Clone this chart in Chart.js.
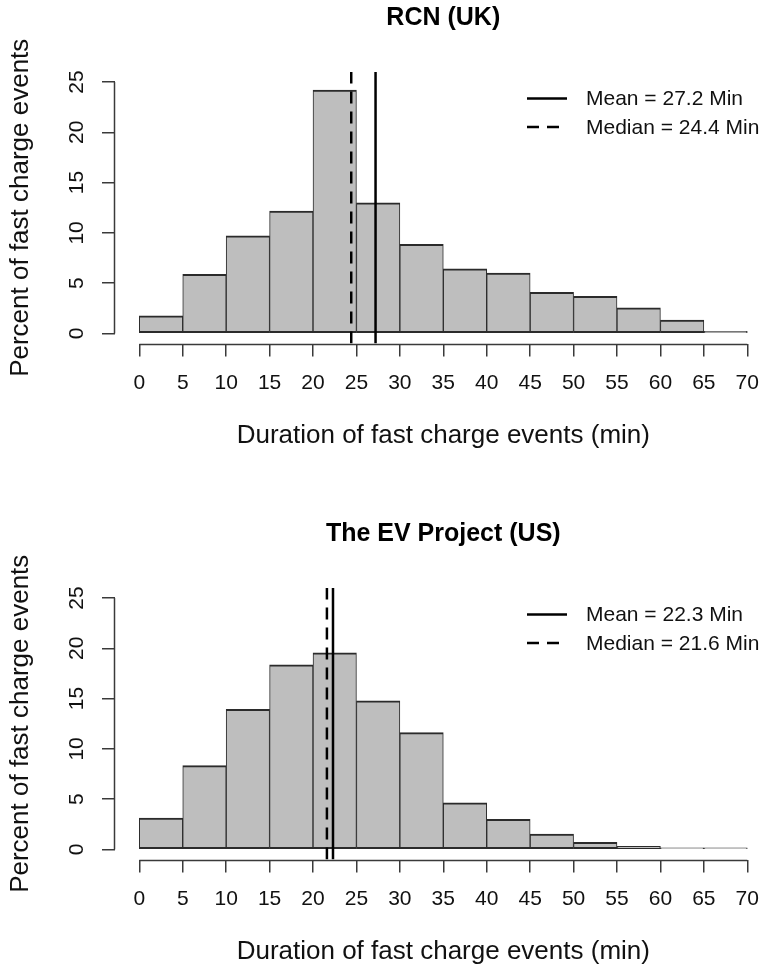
<!DOCTYPE html>
<html><head><meta charset="utf-8">
<script src="https://cdn.jsdelivr.net/npm/chart.js@4"></script>
<style>
html,body{margin:0;padding:0;background:#fff;width:765px;height:968px;overflow:hidden;position:relative}
canvas{position:absolute;left:0}
</style></head><body>
<canvas id="c1" width="773" height="452" style="top:0px"></canvas>
<canvas id="c2" width="773" height="452" style="top:516px"></canvas>
<script>
// ---- data ----
const binStarts = [0, 5, 10, 15, 20, 25, 30, 35, 40, 45, 50, 55, 60, 65];
const binWidth = 5;
const ukPercent = [1.75, 5.87, 9.71, 12.17, 24.2, 13.0, 8.86, 6.43, 6.0, 4.08, 3.68, 2.55, 1.32, 0.2];
const usPercent = [3.12, 8.33, 13.94, 18.36, 19.55, 14.77, 11.62, 4.64, 2.99, 1.52, 0.70, 0.30, 0.13, 0.05];
const xTickValues = [0, 5, 10, 15, 20, 25, 30, 35, 40, 45, 50, 55, 60, 65, 70];
const yTickValues = [0, 5, 10, 15, 20, 25];
const ukMean = 27.2, ukMedian = 24.4;
const usMean = 22.3, usMedian = 21.6;
const titles = ['RCN (UK)', 'The EV Project (US)'];
const xTitle = 'Duration of fast charge events (min)';
const yTitle = 'Percent of fast charge events';

// R-style axis range (4% extension of 0..70 and 0..25)
const X_MIN = -2.8, X_MAX = 72.8, Y_MIN = -1, Y_MAX = 26;

const FONT = "'Liberation Sans', Arial, sans-serif";
const AXIS_COLOR = '#3a3a3a';

const rStylePlugin = {
  id: 'rStyle',
  afterDraw(chart) {
    const ctx = chart.ctx;
    const xs = chart.scales.x, ys = chart.scales.y;
    const ca = chart.chartArea;
    ctx.save();
    ctx.strokeStyle = AXIS_COLOR;
    ctx.lineWidth = 1.5;
    // x axis line (0..70)
    ctx.beginPath();
    ctx.moveTo(xs.getPixelForValue(xTickValues[0]), Math.round(ca.bottom) + 0.5);
    ctx.lineTo(xs.getPixelForValue(xTickValues[xTickValues.length - 1]), Math.round(ca.bottom) + 0.5);
    ctx.stroke();
    // y axis line (0..25)
    ctx.beginPath();
    ctx.moveTo(Math.round(ca.left) - 0.5, ys.getPixelForValue(yTickValues[0]));
    ctx.lineTo(Math.round(ca.left) - 0.5, ys.getPixelForValue(yTickValues[yTickValues.length - 1]));
    ctx.stroke();
    // rotated y tick labels
    ctx.fillStyle = '#111';
    ctx.font = '21px ' + FONT;
    ctx.textAlign = 'center';
    ctx.textBaseline = 'middle';
    yTickValues.forEach(v => {
      ctx.save();
      ctx.translate(77, ys.getPixelForValue(v));
      ctx.rotate(-Math.PI / 2);
      ctx.fillText(String(v), 0, 0);
      ctx.restore();
    });
    // legend
    const rows = [98.5, 127];
    let r = 0;
    chart.data.datasets.forEach((ds) => {
      if (ds.type !== 'line') return;
      const yy = rows[r++];
      ctx.save();
      ctx.strokeStyle = ds.borderColor;
      ctx.lineWidth = ds.borderWidth;
      ctx.setLineDash(ds.borderDash || []);
      ctx.beginPath();
      ctx.moveTo(527, yy);
      ctx.lineTo(567, yy);
      ctx.stroke();
      ctx.restore();
      ctx.fillStyle = '#111';
      ctx.textAlign = 'left';
      ctx.textBaseline = 'middle';
      ctx.font = '21px ' + FONT;
      ctx.fillText(ds.label, 586, yy + 1);
    });
    ctx.restore();
  }
};

function makeChart(id, title, values, mean, median) {
  const bars = binStarts.map((s, i) => ({ x: s + binWidth / 2, y: values[i] }));
  return new Chart(document.getElementById(id), {
    type: 'bar',
    data: {
      datasets: [
        {
          type: 'bar',
          label: 'hist',
          data: bars,
          backgroundColor: '#BEBEBE',
          borderColor: '#2b2b2b',
          borderWidth: { top: 2, bottom: 2, left: 1, right: 1 },
          borderSkipped: false,
          barPercentage: 1,
          categoryPercentage: 1,
          minBarLength: 1.5,
          order: 3
        },
        {
          type: 'line',
          label: 'Mean = ' + mean.toFixed(1) + ' Min',
          data: [{ x: mean, y: Y_MIN }, { x: mean, y: Y_MAX }],
          borderColor: '#000',
          borderWidth: 2.5,
          borderDash: [],
          pointRadius: 0,
          order: 1
        },
        {
          type: 'line',
          label: 'Median = ' + median.toFixed(1) + ' Min',
          data: [{ x: median, y: Y_MIN }, { x: median, y: Y_MAX }],
          borderColor: '#000',
          borderWidth: 2.5,
          borderDash: [12, 8],
          pointRadius: 0,
          order: 2
        }
      ]
    },
    options: {
      responsive: false,
      animation: false,
      devicePixelRatio: 1,
      layout: { padding: 0 },
      plugins: {
        legend: { display: false },
        tooltip: { enabled: false },
        title: {
          display: true,
          text: title,
          fullSize: false,
          color: '#000',
          font: { family: FONT, size: 25, weight: 'bold', lineHeight: 1.2 },
          padding: { top: 3, bottom: 39 }
        }
      },
      scales: {
        x: {
          type: 'linear',
          min: X_MIN,
          max: X_MAX,
          offset: false,
          afterBuildTicks: s => { s.ticks = xTickValues.map(v => ({ value: v })); },
          afterFit: s => { s.height = 108.5; },
          border: { display: false },
          grid: { display: true, offset: false, drawOnChartArea: false, drawTicks: true, tickLength: 13, color: AXIS_COLOR, lineWidth: 1.5 },
          ticks: { color: '#111', font: { family: FONT, size: 21, lineHeight: 1.2 }, padding: 14, maxRotation: 0, autoSkip: false },
          title: { display: true, text: xTitle, color: '#111', font: { family: FONT, size: 26, lineHeight: 1.2 }, padding: { top: 0, bottom: 0.4 } }
        },
        y: {
          type: 'linear',
          min: Y_MIN,
          max: Y_MAX,
          afterBuildTicks: s => { s.ticks = yTickValues.map(v => ({ value: v })); },
          afterFit: s => { s.width = 115; },
          border: { display: false },
          grid: { display: true, drawOnChartArea: false, drawTicks: true, tickLength: 13, color: AXIS_COLOR, lineWidth: 1.5 },
          ticks: { display: false },
          title: { display: true, text: yTitle, color: '#111', font: { family: FONT, size: 26, lineHeight: 1.2 }, padding: { top: 5.4, bottom: 0 } }
        }
      }
    },
    plugins: [rStylePlugin]
  });
}

makeChart('c1', titles[0], ukPercent, ukMean, ukMedian);
makeChart('c2', titles[1], usPercent, usMean, usMedian);
</script>
</body></html>
